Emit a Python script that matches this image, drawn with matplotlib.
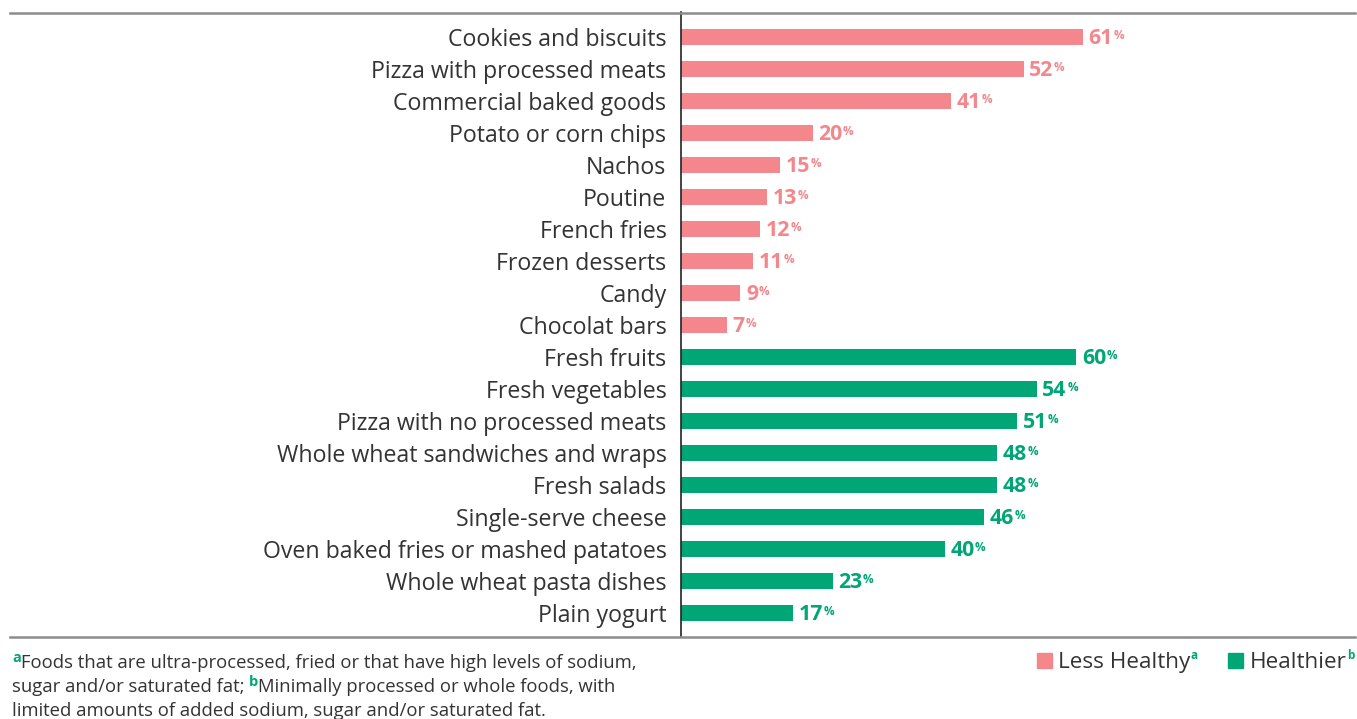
import matplotlib
matplotlib.use("Agg")
import matplotlib.pyplot as plt
from matplotlib.lines import Line2D
from matplotlib.patches import Rectangle

plt.rcParams['font.family'] = ['Open Sans', 'DejaVu Sans']

# alimentos y porcentajes
menos_sanos = ["Cookies and biscuits", "Pizza with processed meats", "Commercial baked goods",
               "Potato or corn chips", "Nachos", "Poutine", "French fries",
               "Frozen desserts", "Candy", "Chocolat bars"]
val_menos = [61, 52, 41, 20, 15, 13, 12, 11, 9, 7]

sanos = ["Fresh fruits", "Fresh vegetables", "Pizza with no processed meats",
         "Whole wheat sandwiches and wraps", "Fresh salads", "Single-serve cheese",
         "Oven baked fries or mashed patatoes", "Whole wheat pasta dishes", "Plain yogurt"]
val_sanos = [60, 54, 51, 48, 48, 46, 40, 23, 17]

ley_menos = "Less Healthy"
ley_sanos = "Healthier"
nota_a = "Foods that are ultra-processed, fried or that have high levels of sodium,"
nota_a2 = "sugar and/or saturated fat; "
nota_b = "Minimally processed or whole foods, with"
nota_b2 = "limited amounts of added sodium, sugar and/or saturated fat."

ROSA = "#F4878C"
VERDE = "#00A676"
GRIS = "#333333"
TAM = 16.7

nombres = menos_sanos + sanos
valores = val_menos + val_sanos
colores = [ROSA] * len(menos_sanos) + [VERDE] * len(sanos)

W, H = 1357, 719
fig = plt.figure(figsize=(W / 100, H / 100), dpi=100)
ax = fig.add_axes([681 / W, 1 - 636.5 / H, (1355 - 681) / W, (636.5 - 12.5) / H])

pos = list(range(len(nombres)))
ax.barh(pos, valores, height=0.5, color=colores)
ax.set_xlim(0, 102.3)
ax.set_ylim(18.73, -0.77)
ax.set_xticks([])
ax.set_yticks(pos)
ax.set_yticklabels(nombres, fontsize=TAM, color=GRIS)
ax.tick_params(axis='y', length=0, pad=10.5)
for s in ["top", "right", "bottom"]:
    ax.spines[s].set_visible(False)
ax.spines["left"].set_color("#222222")
ax.spines["left"].set_linewidth(1.2)

# lineas horizontales de arriba y abajo
for yy in [12.5, 636.5]:
    fig.add_artist(Line2D([10 / W, 1355 / W], [1 - yy / H, 1 - yy / H],
                          color="#8c8c8c", lw=1.8))

fig.canvas.draw()
rend = fig.canvas.get_renderer()

# etiquetas de valor con el % en superindice
for p, v, c in zip(pos, valores, colores):
    t = ax.text(v + 0.85, p + 0.03, str(v), color=c, fontsize=15.3, fontweight="bold",
                va="center", ha="left")
    bb = t.get_window_extent(rend)
    fig.text((bb.x1 + 0.5) / W, (bb.y1 - 1) / H, "%", color=c, fontsize=8.5,
             fontweight="bold", va="top", ha="left")


# nota al pie y leyenda: trozos de texto seguidos en una linea
def linea(x_px, y_px, partes):
    x = x_px
    for txt, color, size, peso, dy in partes:
        t = fig.text(x / W, 1 - (y_px + dy) / H, txt, color=color, fontsize=size,
                     fontweight=peso, va="baseline", ha="left")
        x = t.get_window_extent(rend).x1
    return x

FN = 13.3
linea(12, 668, [("a", VERDE, 10.5, "bold", -6), (nota_a, GRIS, FN, "normal", 0)])
linea(12, 692, [(nota_a2, GRIS, FN, "normal", 0), ("b", VERDE, 10.5, "bold", -6),
                (nota_b, GRIS, FN, "normal", 0)])
linea(12, 716, [(nota_b2, GRIS, FN, "normal", 0)])

# leyenda
LEY = 16.2
fig.add_artist(Rectangle((1037 / W, 1 - 668 / H), 15 / W, 15 / H, color=ROSA))
linea(1058, 668, [(ley_menos, GRIS, LEY, "normal", 0), ("a", VERDE, 8.5, "bold", -9)])
fig.add_artist(Rectangle((1228 / W, 1 - 668 / H), 15 / W, 15 / H, color=VERDE))
linea(1250, 668, [(ley_sanos, GRIS, LEY, "normal", 0), ("b", VERDE, 8.5, "bold", -9)])

fig.savefig("out.png", dpi=100)
